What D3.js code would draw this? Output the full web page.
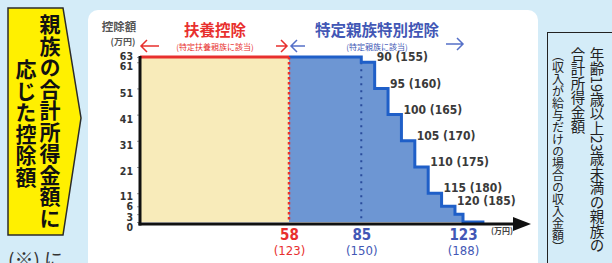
<!DOCTYPE html>
<html>
<head>
<meta charset="utf-8">
<script src="https://cdn.jsdelivr.net/npm/d3@7"></script>
<style>
  html, body { margin: 0; padding: 0; background: #d4ecf8; overflow: hidden; }
  svg { display: block; }
</style>
</head>
<body>
<script>
// 控除額（万円）の目盛り
var yTicks = [0, 3, 6, 11, 21, 31, 41, 51, 61, 63];
// 合計所得金額（万円）ごとの控除額。各値はその所得から次の区切りまで
var stepIncome = [58, 85, 90, 95, 100, 105, 110, 115, 120, 123, 131];
var stepAmount = [63, 61, 51, 41, 31, 21, 11, 6, 3, 0, 0];
// 給与収入だけの場合の収入金額（万円）
var stepSalary = [123, 150, 155, 160, 165, 170, 175, 180, 185, 188, 0];
var xTicks = [58, 85, 123];
var xTickSalary = [123, 150, 188];

var W = 612, H = 263;
var RED = "#e8302e", BLUE = "#4257b5", DARK = "#333";
var NUM = "'DejaVu Sans Condensed', 'Liberation Sans Narrow', sans-serif";
var JP = "'Noto Sans CJK JP', sans-serif";

var svg = d3.select("body").append("svg")
  .attr("width", W)
  .attr("height", H);

svg.append("rect").attr("width", W).attr("height", H).attr("fill", "#d4ecf8");

// 左の黄色い見出し
svg.append("path")
  .attr("d", "M8,8 L63,8 L81,118 L63,235 L8,235 Z")
  .attr("fill", "#fff000")
  .attr("stroke", "#2b2b2b")
  .attr("stroke-width", 1.5);

function vtext(g, str, x, y, size, weight, color, spacing) {
  return g.append("text")
    .attr("x", x).attr("y", y)
    .style("writing-mode", "vertical-rl")
    .style("font-family", JP)
    .style("font-size", size + "px")
    .style("font-weight", weight)
    .style("letter-spacing", (spacing || 0) + "px")
    .attr("fill", color)
    .text(str);
}

vtext(svg, "親族の合計所得金額に", 50, 14, 21, 700, "#111", 0.5);
vtext(svg, "応じた控除額", 26, 59, 21, 700, "#111", 0.5);

svg.append("text")
  .attr("x", 8).attr("y", 267)
  .style("font-family", JP).style("font-size", "19px")
  .attr("fill", DARK)
  .text("(※) に");

// 右の縦書きの説明
svg.append("rect")
  .attr("x", 547.5).attr("y", 32.5).attr("width", 80).attr("height", 260)
  .attr("fill", "none").attr("stroke", "#222").attr("stroke-width", 1);
vtext(svg, "年齢19歳以上23歳未満の親族の", 597, 47, 14.5, 400, "#222");
vtext(svg, "合計所得金額", 578, 47, 14.5, 400, "#222");
vtext(svg, "（収入が給与だけの場合の収入金額）", 558, 49, 12, 400, "#222");

// 白いパネル
svg.append("rect")
  .attr("x", 88).attr("y", 10).attr("width", 450).attr("height", 290)
  .attr("rx", 10).attr("fill", "#fff");

var x = d3.scaleLinear().domain([0, 58, 123]).range([140, 289, 463]);
var y = d3.scaleLinear().domain([0, 63]).range([222, 57]);

var pts = stepIncome.map(function(v, i) { return { inc: v, amt: stepAmount[i] }; });

// 扶養控除の範囲
svg.append("rect")
  .attr("x", x(0)).attr("y", y(63))
  .attr("width", x(58) - x(0)).attr("height", y(0) - y(63))
  .attr("fill", "#f8ebba");

// 特定親族特別控除の範囲
var area = d3.area()
  .x(function(d) { return x(d.inc); })
  .y0(y(0))
  .y1(function(d) { return y(d.amt); })
  .curve(d3.curveStepAfter);

svg.append("path")
  .datum(pts.slice(0, 10))
  .attr("d", area)
  .attr("fill", "#6d96d3");

svg.append("line")
  .attr("x1", x(85)).attr("x2", x(85))
  .attr("y1", y(61)).attr("y2", y(0))
  .attr("stroke", "#2a4c9c").attr("stroke-width", 2)
  .attr("stroke-dasharray", "2 5");

var line = d3.line()
  .x(function(d) { return x(d.inc); })
  .y(function(d) { return y(d.amt); })
  .curve(d3.curveStepAfter);

svg.append("path")
  .datum(pts)
  .attr("d", line)
  .attr("fill", "none")
  .attr("stroke", "#1f5fc8")
  .attr("stroke-width", 3);

svg.append("line")
  .attr("x1", x(0)).attr("x2", x(58))
  .attr("y1", y(63)).attr("y2", y(63))
  .attr("stroke", RED).attr("stroke-width", 3);

svg.append("line")
  .attr("x1", x(58)).attr("x2", x(58))
  .attr("y1", y(63)).attr("y2", y(0))
  .attr("stroke", RED).attr("stroke-width", 2.5)
  .attr("stroke-dasharray", "2.5 2.5");

// 軸
var yAxis = svg.append("g")
  .attr("transform", "translate(" + x(0) + ",0)")
  .call(d3.axisLeft(y).tickValues(yTicks).tickSize(3).tickSizeOuter(0).tickPadding(8));
yAxis.select(".domain").remove();
yAxis.selectAll(".tick line").attr("stroke", "#999").attr("stroke-width", 1);

// ラベルが重ならないよう下から順に詰める
var prev = null;
yTicks.forEach(function(v) {
  var want = y(v) + 4;
  var pos = prev === null ? y(v) + 5 : Math.min(want, prev - 10.5);
  prev = pos;
  yAxis.selectAll(".tick").filter(function(d) { return d === v; })
    .select("text")
    .attr("y", pos - y(v))
    .attr("dy", "0.35em");
});
yAxis.selectAll(".tick text")
  .attr("x", -7)
  .style("font-family", NUM)
  .style("font-size", "10.5px")
  .style("font-weight", 700)
  .attr("fill", DARK);

svg.append("line")
  .attr("x1", x(0)).attr("x2", x(0))
  .attr("y1", y(63) - 1).attr("y2", 225.5)
  .attr("stroke", "#111").attr("stroke-width", 3);
svg.append("line")
  .attr("x1", x(0) - 1.5).attr("x2", 516)
  .attr("y1", 224).attr("y2", 224)
  .attr("stroke", "#111").attr("stroke-width", 3);
svg.append("path")
  .attr("d", "M513,217 L531,224 L513,231 Z")
  .attr("fill", "#111");

var xAxis = svg.append("g")
  .attr("transform", "translate(0,224)")
  .call(d3.axisBottom(x).tickValues(xTicks).tickSize(0));
xAxis.select(".domain").remove();
xAxis.selectAll(".tick text").remove();
xAxis.selectAll(".tick").each(function(d, i) {
  var t = d3.select(this).append("text")
    .attr("text-anchor", "middle")
    .style("font-family", NUM)
    .attr("fill", i === 0 ? RED : BLUE);
  t.append("tspan").attr("x", 0).attr("y", 16)
    .style("font-size", "15px").style("font-weight", 700)
    .text(d);
  t.append("tspan").attr("x", 0).attr("y", 30.5)
    .style("font-size", "13px")
    .text("(" + xTickSalary[i] + ")");
});

svg.append("text")
  .attr("x", 502).attr("y", 234)
  .attr("text-anchor", "middle")
  .style("font-family", JP).style("font-size", "8px").style("font-weight", 700)
  .attr("fill", "#444")
  .text("(万円)");

// 階段の各段のラベル
d3.range(2, 9).forEach(function(i) {
  svg.append("text")
    .attr("x", x(stepIncome[i]) + 2)
    .attr("y", y(stepAmount[i - 1]) - 5)
    .attr("dy", "0.35em")
    .style("font-family", NUM)
    .style("font-size", "12px")
    .style("font-weight", 700)
    .attr("fill", "#3a3a3a")
    .text(stepIncome[i] + " (" + stepSalary[i] + ")");
});

// 軸の見出し
svg.append("text")
  .attr("x", 119).attr("y", 31)
  .attr("text-anchor", "middle")
  .style("font-family", JP).style("font-size", "11.5px").style("font-weight", 700)
  .attr("fill", "#555")
  .text("控除額");
svg.append("text")
  .attr("x", 123).attr("y", 45)
  .attr("text-anchor", "middle")
  .style("font-family", JP).style("font-size", "9px").style("font-weight", 700)
  .attr("fill", "#555")
  .text("(万円)");

// 上部の見出し
function header(cx, title, sub, color) {
  svg.append("text")
    .attr("x", cx).attr("y", 36)
    .attr("text-anchor", "middle")
    .style("font-family", JP).style("font-size", "15.5px").style("font-weight", 700)
    .attr("fill", color)
    .text(title);
  svg.append("text")
    .attr("x", cx).attr("y", 50)
    .attr("text-anchor", "middle")
    .style("font-family", JP).style("font-size", "8px")
    .attr("fill", color)
    .text(sub);
}
header(215, "扶養控除", "(特定扶養親族に該当)", RED);
header(377, "特定親族特別控除", "(特定親族に該当)", BLUE);

function arrow(x1, x2, yy, color) {
  var dir = x2 > x1 ? 1 : -1;
  svg.append("path")
    .attr("d", "M" + x1 + "," + yy + " L" + x2 + "," + yy +
      " M" + (x2 - dir * 6) + "," + (yy - 6) + " L" + x2 + "," + yy +
      " L" + (x2 - dir * 6) + "," + (yy + 6))
    .attr("fill", "none")
    .attr("stroke", color)
    .attr("stroke-width", 1.5);
}
arrow(x(0) + 19, x(0) + 1, 46, RED);
arrow(x(58) - 13, x(58) - 2, 46, RED);
arrow(x(58) + 16, x(58) + 2, 46, "#5570c8");
arrow(x(123) - 17, x(123), 44, "#5570c8");
</script>
</body>
</html>
